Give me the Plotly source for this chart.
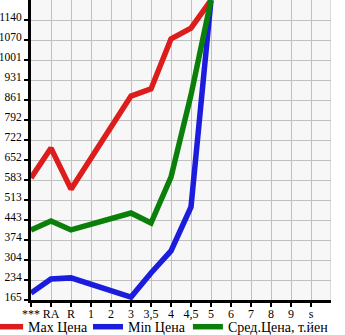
import plotly.graph_objects as go

categories = ["***", "RA", "R", "1", "2", "3", "3,5", "4", "4,5", "5", "6", "7", "8", "9", "s"]
max_price = [590, 694, 551, None, None, 875, 900, 1074, 1112, 1209, None, None, None, None, None]
min_price = [189, 238, 242, None, None, 175, 259, 336, 489, 1209, None, None, None, None, None]
avg_price = [409, 440, 409, None, None, 468, 433, 593, 879, 1209, None, None, None, None, None]
y_ticks = [165, 234, 304, 374, 443, 513, 583, 652, 722, 792, 861, 931, 1001, 1070, 1140]

step = (1140 - 165) / 14
y_tickvals = [165 + step * i for i in range(len(y_ticks))]
xs = list(range(len(categories)))

font_family = "Liberation Serif, DejaVu Serif, serif"

fig = go.Figure()
series = [
    ("Max Цена", max_price, "#dd1c1c", "legend", -0.143),
    ("Min Цена", min_price, "#1c1cdd", "legend2", 0.19),
    ("Сред.Цена, т.йен", avg_price, "#0a800a", "legend3", 0.523),
]
legends = {}
for name, vals, col, lg, lx in series:
    fig.add_trace(go.Scatter(
        x=xs, y=vals, mode="lines", name=name, connectgaps=True,
        line=dict(color=col, width=5.5), legend=lg,
    ))
    legends[lg] = dict(
        orientation="h", x=lx, xanchor="left", y=-0.037, yanchor="top",
        font=dict(family=font_family, size=14),
        itemwidth=30, bgcolor="rgba(0,0,0,0)",
    )

fig.update_layout(
    width=345, height=335,
    margin=dict(l=31, r=14, t=0, b=35, autoexpand=False),
    paper_bgcolor="white",
    plot_bgcolor="#f7f7f7",
    font=dict(family=font_family, size=13, color="black"),
    showlegend=True,
    **legends,
    xaxis=dict(
        range=[0, 15], tickmode="array", tickvals=xs, ticktext=categories,
        showgrid=True, gridcolor="#c0c0c0", gridwidth=1,
        showline=True, linecolor="black", linewidth=3,
        ticks="outside", ticklen=4, tickwidth=1.5, tickcolor="black",
        zeroline=False, fixedrange=True, tickangle=0, ticklabelstandoff=-3,
        tickfont=dict(family=font_family, size=12),
    ),
    yaxis=dict(
        range=[165, 165 + step * 15], tickmode="array", tickvals=y_tickvals,
        ticktext=[str(v) for v in y_ticks],
        showgrid=True, gridcolor="#c0c0c0", gridwidth=1,
        showline=True, linecolor="black", linewidth=3,
        ticks="outside", ticklen=4, tickwidth=1.5, tickcolor="black",
        zeroline=False, fixedrange=True, ticklabelshift=-3, ticklabelstandoff=0,
        tickfont=dict(family=font_family, size=11.5),
    ),
)
fig.add_shape(type="line", xref="x", yref="paper", x0=15, x1=15, y0=0, y1=1,
              line=dict(color="#c0c0c0", width=1))
fig.write_html("out.html")
